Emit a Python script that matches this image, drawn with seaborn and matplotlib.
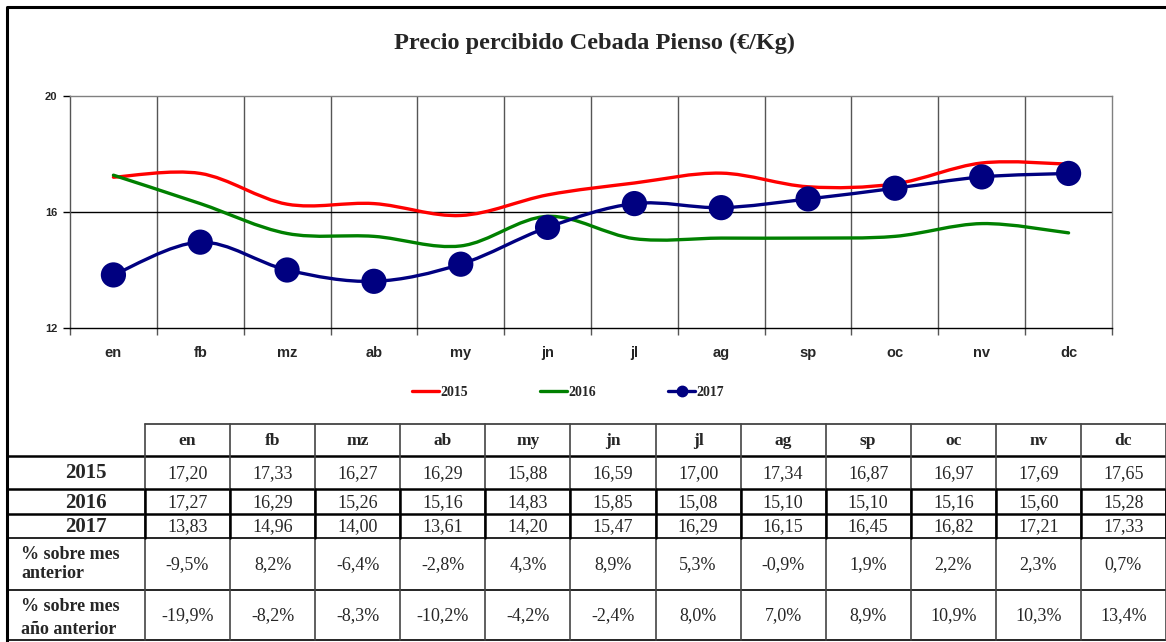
import numpy as np
import matplotlib
matplotlib.use("Agg")
import matplotlib.pyplot as plt
import seaborn as sns
import pandas as pd
from matplotlib.path import Path
from matplotlib.patches import PathPatch
from matplotlib.lines import Line2D

# ---------------- data ----------------
months = ["en", "fb", "mz", "ab", "my", "jn", "jl", "ag", "sp", "oc", "nv", "dc"]
p2015 = [17.20, 17.33, 16.27, 16.29, 15.88, 16.59, 17.00, 17.34, 16.87, 16.97, 17.69, 17.65]
p2016 = [17.27, 16.29, 15.26, 15.16, 14.83, 15.85, 15.08, 15.10, 15.10, 15.16, 15.60, 15.28]
p2017 = [13.83, 14.96, 14.00, 13.61, 14.20, 15.47, 16.29, 16.15, 16.45, 16.82, 17.21, 17.33]
pct_mes = ["-9,5%", "8,2%", "-6,4%", "-2,8%", "4,3%", "8,9%", "5,3%", "-0,9%", "1,9%", "2,2%", "2,3%", "0,7%"]
pct_anio = ["-19,9%", "-8,2%", "-8,3%", "-10,2%", "-4,2%", "-2,4%", "8,0%", "7,0%", "8,9%", "10,9%", "10,3%", "13,4%"]
series_names = ["2015", "2016", "2017"]
row_labels = ["2015", "2016", "2017", "% sobre mes\nanterior", "% sobre mes\naño anterior"]
title = "Precio percibido Cebada Pienso (€/Kg)"
y_ticks = [12, 16, 20]

colors = {"2015": "#FF0000", "2016": "#008000", "2017": "#000080"}

sns.set_style("white")
plt.rcParams["font.family"] = ["Liberation Sans", "DejaVu Sans"]

W, H = 1166, 642
fig = plt.figure(figsize=(W / 100, H / 100), dpi=100)

# full-figure pixel axes for frame, title and table
bg = fig.add_axes([0, 0, 1, 1])
bg.set_xlim(0, W)
bg.set_ylim(H, 0)
bg.axis("off")

# outer frame
bg.plot([7, 7, W], [H, 7, 7], color="black", lw=2.2, solid_capstyle="projecting")

serif = ["Liberation Serif", "DejaVu Serif"]
bg.text(594, 43, title, ha="center", va="center", fontsize=17.5, fontweight="bold", family=serif)

# ---------------- chart ----------------
ax = fig.add_axes([70 / W, 1 - 328 / H, (1112 - 70) / W, (328 - 96) / H])
x = np.arange(len(months))


def smooth_path(xs, ys, t=1 / 6):
    verts = [(xs[0], ys[0])]
    codes = [Path.MOVETO]
    n = len(xs)
    for i in range(n - 1):
        x0, y0 = (xs[i - 1], ys[i - 1]) if i > 0 else (xs[i], ys[i])
        x3, y3 = (xs[i + 2], ys[i + 2]) if i + 2 < n else (xs[i + 1], ys[i + 1])
        c1 = (xs[i] + (xs[i + 1] - x0) * t, ys[i] + (ys[i + 1] - y0) * t)
        c2 = (xs[i + 1] - (x3 - xs[i]) * t, ys[i + 1] - (y3 - ys[i]) * t)
        verts += [c1, c2, (xs[i + 1], ys[i + 1])]
        codes += [Path.CURVE4] * 3
    return Path(verts, codes)


for name, vals in zip(series_names, [p2015, p2016, p2017]):
    patch = PathPatch(smooth_path(x, vals), fill=False, edgecolor=colors[name], lw=2.4,
                      capstyle="round", zorder=3)
    ax.add_patch(patch)

df17 = pd.DataFrame({"x": x, "y": p2017})
sns.scatterplot(data=df17, x="x", y="y", color=colors["2017"], s=330, edgecolor="none",
                zorder=5, ax=ax, legend=False)

ax.set_xlim(-0.5, len(months) - 0.5)
ax.set_ylim(12, 20)
ax.set_xlabel("")
ax.set_ylabel("")

for b in np.arange(0.5, len(months) - 0.5, 1):
    ax.axvline(b, color="#555555", lw=1, zorder=1)
ax.axhline(16, color="black", lw=1, zorder=1)

ax.set_xticks(np.arange(-0.5, len(months), 1))
ax.set_xticklabels([])
ax.set_xticks(x, minor=True)
ax.set_xticklabels(months, minor=True, fontsize=10.5, fontweight="bold")
ax.tick_params(axis="x", which="major", direction="out", length=5, width=1, color="#555555", bottom=True)
ax.tick_params(axis="x", which="minor", length=0, pad=13)
ax.set_yticks(y_ticks)
ax.set_yticklabels([str(v) for v in y_ticks], fontsize=8, fontweight="bold")
ax.tick_params(axis="y", direction="out", length=5, width=1, color="black", left=True, pad=4)

for s in ["top", "right"]:
    ax.spines[s].set_color("#808080")
    ax.spines[s].set_linewidth(1)
ax.spines["left"].set_color("#555555")
ax.spines["bottom"].set_color("black")
for s in ["left", "bottom"]:
    ax.spines[s].set_linewidth(1)

handles = [
    Line2D([], [], color=colors["2015"], lw=2.4),
    Line2D([], [], color=colors["2016"], lw=2.4),
    Line2D([], [], color=colors["2017"], lw=2.4, marker="o", markersize=7.5),
]
fig.legend(handles, series_names, loc="center", bbox_to_anchor=(568 / W, 1 - 392 / H), ncol=3,
           frameon=False, columnspacing=5.2, handlelength=1.95, handletextpad=0.1,
           prop={"family": "Liberation Serif", "weight": "bold", "size": 10})

# ---------------- table ----------------
col_edges = np.linspace(145, W, len(months) + 1)
row_edges = [424, 456, 489, 514, 538, 590, 640]

# horizontal lines
bg.plot([145, W], [row_edges[0]] * 2, color="#333333", lw=1.2)
for i, yv in enumerate(row_edges[1:]):
    lw = 1.8 if i <= 2 else 1.2
    bg.plot([7, W], [yv, yv], color="black", lw=lw)
# vertical lines
for j, xv in enumerate(col_edges):
    bg.plot([xv, xv], [row_edges[0], row_edges[-1]], color="#444444", lw=1.2)
    bg.plot([xv, xv], [row_edges[2], row_edges[4]], color="black", lw=1.8)

cx = (col_edges[:-1] + col_edges[1:]) / 2
ry = [(row_edges[i] + row_edges[i + 1]) / 2 for i in range(len(row_edges) - 1)]

for j, m in enumerate(months):
    bg.text(cx[j], ry[0] + 1, m, ha="center", va="center", fontsize=12.5, fontweight="bold", family=serif)

fmt = lambda v: f"{v:.2f}".replace(".", ",")
table_rows = [[fmt(v) for v in p2015], [fmt(v) for v in p2016], [fmt(v) for v in p2017], pct_mes, pct_anio]
label_spacing = {3: 1.15, 4: 1.5}
for i, (lab, vals) in enumerate(zip(row_labels, table_rows)):
    yc = ry[i + 1]
    if i < 3:
        bg.text(86, yc + 1, lab, ha="center", va="center", fontsize=15, fontweight="bold", family=serif)
    else:
        bg.text(21, yc + (0 if i == 3 else 3), lab, ha="left", va="center", fontsize=13,
                fontweight="bold", family=serif, linespacing=label_spacing[i])
    for j, v in enumerate(vals):
        bg.text(cx[j], yc + 1, v, ha="center", va="center", fontsize=13, family=serif)

fig.savefig("out.png", dpi=100)
